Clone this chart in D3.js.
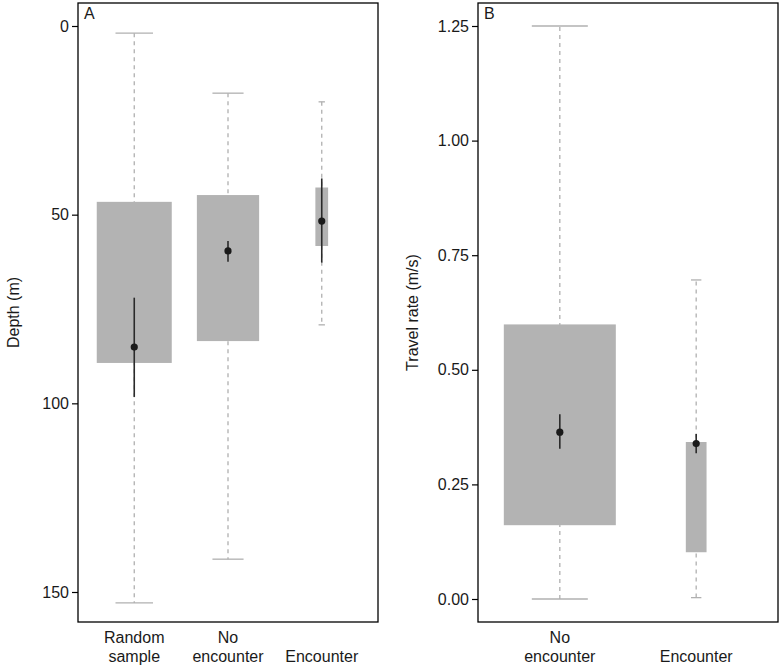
<!DOCTYPE html>
<html>
<head>
<meta charset="utf-8">
<script src="https://cdn.jsdelivr.net/npm/d3@7"></script>
<style>
  body { margin: 0; background: #fff; }
  svg { display: block; }
  text { font-family: "Liberation Sans", Arial, Helvetica, sans-serif; fill: #1a1a1a; }
</style>
</head>
<body>
<svg id="chart" width="782" height="669"></svg>
<script>
// ---- Panel A data (Depth, m) ----
const depthCategories = ["Random sample", "No encounter", "Encounter"];
const depthWhiskerLow  = [1.9, 17.8, 20.1];
const depthQ1          = [46.6, 44.8, 42.8];
const depthQ3          = [89.3, 83.5, 58.3];
const depthWhiskerHigh = [152.9, 141.3, 79.2];
const depthMean        = [85.1, 59.6, 51.7];
const depthCILow       = [72.0, 57.0, 40.4];
const depthCIHigh      = [98.3, 62.5, 62.7];
const depthBoxRelWidth = [1.0, 0.83, 0.17];
const depthTicks = [0, 50, 100, 150];

// ---- Panel B data (Travel rate, m/s) ----
const rateCategories = ["No encounter", "Encounter"];
const rateWhiskerLow  = [0.0, 0.003];
const rateQ1          = [0.161, 0.102];
const rateQ3          = [0.599, 0.3425];
const rateWhiskerHigh = [1.25, 0.696];
const rateMean        = [0.364, 0.339];
const rateCILow       = [0.328, 0.318];
const rateCIHigh      = [0.403, 0.36];
const rateBoxRelWidth = [1.0, 0.185];
const rateTicks = [0, 0.25, 0.5, 0.75, 1.0, 1.25];

const FONT = 16;
const svg = d3.select("#chart");

function panel(opts) {
  const {left, right, top, bottom, cats, lo, q1, q3, hi, mean, ciLo, ciHi, relW,
         yDomain, yRange, ticks, fmt, ylabel, ylabelX, tag, maxBoxW} = opts;
  const g = svg.append("g");
  const x = d3.scalePoint().domain(cats).range([left, right]).padding(0.6);
  const y = d3.scaleLinear().domain(yDomain).range(yRange);

  const data = cats.map((c, i) => ({c, lo: lo[i], q1: q1[i], q3: q3[i], hi: hi[i],
    mean: mean[i], ciLo: ciLo[i], ciHi: ciHi[i], w: relW[i] * maxBoxW}));

  // whiskers (dashed)
  g.selectAll(".wl").data(data).enter().append("line")
    .attr("x1", d => x(d.c)).attr("x2", d => x(d.c))
    .attr("y1", d => y(d.lo)).attr("y2", d => y(d.hi))
    .attr("stroke", "#b0b0b0").attr("stroke-width", 1.3)
    .attr("stroke-dasharray", "4,4");
  // caps
  ["lo", "hi"].forEach(k => {
    g.selectAll(".cap" + k).data(data).enter().append("line")
      .attr("x1", d => x(d.c) - d.w / 4).attr("x2", d => x(d.c) + d.w / 4)
      .attr("y1", d => y(d[k])).attr("y2", d => y(d[k]))
      .attr("stroke", "#b0b0b0").attr("stroke-width", 1.3);
  });
  // boxes
  g.selectAll(".box").data(data).enter().append("rect")
    .attr("x", d => x(d.c) - d.w / 2).attr("width", d => d.w)
    .attr("y", d => Math.min(y(d.q1), y(d.q3)))
    .attr("height", d => Math.abs(y(d.q3) - y(d.q1)))
    .attr("fill", "#b3b3b3");
  // CI bars
  g.selectAll(".ci").data(data).enter().append("line")
    .attr("x1", d => x(d.c)).attr("x2", d => x(d.c))
    .attr("y1", d => y(d.ciLo)).attr("y2", d => y(d.ciHi))
    .attr("stroke", "#2a2a2a").attr("stroke-width", 1.6);
  // mean points
  g.selectAll(".pt").data(data).enter().append("circle")
    .attr("cx", d => x(d.c)).attr("cy", d => y(d.mean)).attr("r", 3.6)
    .attr("fill", "#1a1a1a");

  // frame
  g.append("rect").attr("x", left).attr("y", top)
    .attr("width", right - left).attr("height", bottom - top)
    .attr("fill", "none").attr("stroke", "#000").attr("stroke-width", 1.3);

  // y axis
  const ax = g.append("g").attr("transform", `translate(${left},0)`)
    .call(d3.axisLeft(y).tickValues(ticks).tickFormat(fmt).tickSize(6).tickPadding(3));
  ax.select(".domain").remove();
  ax.selectAll(".tick line").attr("stroke", "#000").attr("stroke-width", 1.2);
  ax.selectAll(".tick text").attr("font-size", FONT).attr("fill", "#1a1a1a")
    .style("font-family", "'Liberation Sans', Arial, sans-serif");

  // y label
  g.append("text")
    .attr("transform", `translate(${ylabelX},${(top + bottom) / 2}) rotate(-90)`)
    .attr("text-anchor", "middle").attr("font-size", FONT).text(ylabel);

  // x category labels (two lines, bottom aligned)
  cats.forEach(c => {
    const parts = c === "Random sample" ? ["Random", "sample"]
                : c === "No encounter" ? ["No", "encounter"] : ["", c];
    const t = g.append("text").attr("text-anchor", "middle").attr("font-size", FONT);
    t.append("tspan").attr("x", x(c)).attr("y", bottom + 21).text(parts[0]);
    t.append("tspan").attr("x", x(c)).attr("y", bottom + 40).text(parts[1]);
  });

  // panel tag
  g.append("text").attr("x", left + 6).attr("y", top + 16)
    .attr("font-size", FONT).text(tag);
}

panel({
  left: 78, right: 378, top: 3, bottom: 622,
  cats: depthCategories, lo: depthWhiskerLow, q1: depthQ1, q3: depthQ3,
  hi: depthWhiskerHigh, mean: depthMean, ciLo: depthCILow, ciHi: depthCIHigh,
  relW: depthBoxRelWidth, maxBoxW: 75,
  yDomain: [0, 150], yRange: [26, 592], ticks: depthTicks, fmt: d3.format("d"),
  ylabel: "Depth (m)", ylabelX: 19, tag: "A"
});

panel({
  left: 478, right: 778, top: 3, bottom: 622,
  cats: rateCategories, lo: rateWhiskerLow, q1: rateQ1, q3: rateQ3,
  hi: rateWhiskerHigh, mean: rateMean, ciLo: rateCILow, ciHi: rateCIHigh,
  relW: rateBoxRelWidth, maxBoxW: 112,
  yDomain: [0, 1.25], yRange: [599, 26], ticks: rateTicks, fmt: d3.format(".2f"),
  ylabel: "Travel rate (m/s)", ylabelX: 418, tag: "B"
});
</script>
</body>
</html>
